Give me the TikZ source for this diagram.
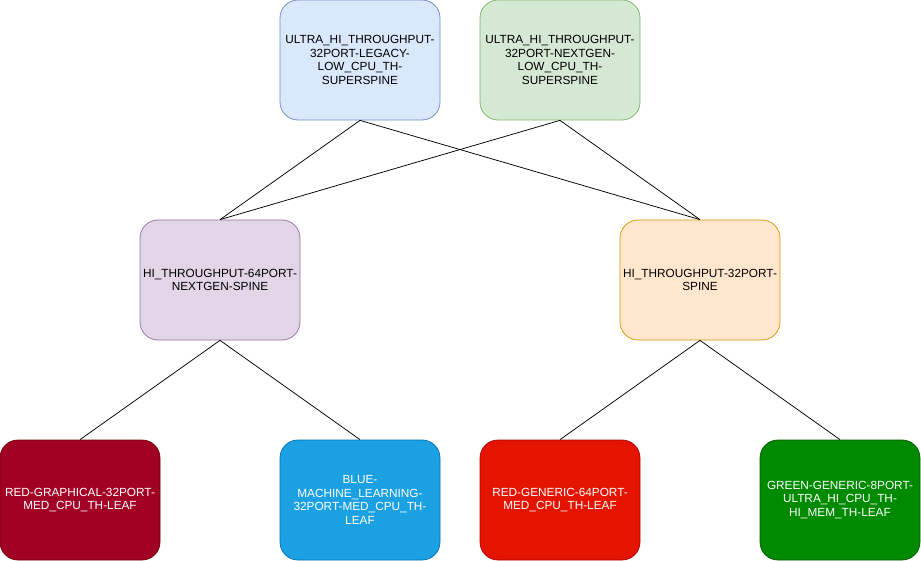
\documentclass[tikz,border=0pt]{standalone}
\usepackage{fontspec}
\setmainfont{Liberation Sans}
\definecolor{f1}{HTML}{DAE8FC}\definecolor{s1}{HTML}{6C8EBF}
\definecolor{f2}{HTML}{D5E8D4}\definecolor{s2}{HTML}{82B366}
\definecolor{f3}{HTML}{E1D5E7}\definecolor{s3}{HTML}{9673A6}
\definecolor{f4}{HTML}{FFE6CC}\definecolor{s4}{HTML}{D79B00}
\definecolor{f5}{HTML}{A20025}\definecolor{s5}{HTML}{6F0000}
\definecolor{f6}{HTML}{1BA1E2}\definecolor{s6}{HTML}{006EAF}
\definecolor{f7}{HTML}{E51400}\definecolor{s7}{HTML}{B20000}
\definecolor{f8}{HTML}{008A00}\definecolor{s8}{HTML}{005700}
\tikzset{
  box/.style={rectangle, rounded corners=18pt, minimum width=160pt, minimum height=120pt,
    inner sep=0pt, align=center, font=\fontsize{11.8}{13.8}\selectfont, line width=0.75pt},
  dark/.style={box, text=white},
  link/.style={draw=black, line width=0.75pt}
}
\begin{document}
\begin{tikzpicture}[x=1pt,y=-1pt]
\useasboundingbox (0,0) rectangle (921,561);
\node[box, fill=f1, draw=s1] (t1) at (360,60) {ULTRA\_HI\_THROUGHPUT-\\32PORT-LEGACY-\\LOW\_CPU\_TH-\\SUPERSPINE};
\node[box, fill=f2, draw=s2] (t2) at (560,60) {ULTRA\_HI\_THROUGHPUT-\\32PORT-NEXTGEN-\\LOW\_CPU\_TH-\\SUPERSPINE};
\node[box, fill=f3, draw=s3] (m1) at (220,280) {HI\_THROUGHPUT-64PORT-\\NEXTGEN-SPINE};
\node[box, fill=f4, draw=s4] (m2) at (700,280) {HI\_THROUGHPUT-32PORT-\\SPINE};
\node[dark, fill=f5, draw=s5] (b1) at (80,500) {RED-GRAPHICAL-32PORT-\\MED\_CPU\_TH-LEAF};
\node[dark, fill=f6, draw=s6] (b2) at (360,500) {BLUE-\\MACHINE\_LEARNING-\\32PORT-MED\_CPU\_TH-\\LEAF};
\node[dark, fill=f7, draw=s7] (b3) at (560,500) {RED-GENERIC-64PORT-\\MED\_CPU\_TH-LEAF};
\node[dark, fill=f8, draw=s8] (b4) at (840,500) {GREEN-GENERIC-8PORT-\\ULTRA\_HI\_CPU\_TH-\\HI\_MEM\_TH-LEAF};
\draw[link] (t1.south) -- (m1.north);
\draw[link] (t1.south) -- (m2.north);
\draw[link] (t2.south) -- (m1.north);
\draw[link] (t2.south) -- (m2.north);
\draw[link] (m1.south) -- (b1.north);
\draw[link] (m1.south) -- (b2.north);
\draw[link] (m2.south) -- (b3.north);
\draw[link] (m2.south) -- (b4.north);
\end{tikzpicture}
\end{document}
